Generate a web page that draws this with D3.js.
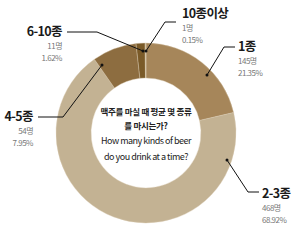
<!DOCTYPE html>
<html><head><meta charset="utf-8">
<script src="https://cdn.jsdelivr.net/npm/d3@7"></script>
<style>
body{margin:0;background:#fff;}
svg{display:block;}
text{font-family:"Noto Sans CJK KR","Noto Sans",sans-serif;}
</style></head>
<body><svg id="c" width="299" height="246"></svg>
<script>
const categories = ["1종", "2-3종", "4-5종", "6-10종", "10종이상"];
const counts = [145, 468, 54, 11, 1];
const percents = ["21.35%", "68.92%", "7.95%", "1.62%", "0.15%"];
const countUnit = "명";
const centerLines = ["맥주를 마실 때 평균 몇 종류", "를 마시는가?", "How many kinds of beer", "do you drink at a time?"];

const colors = ["#a6865a", "#c3b293", "#8d6d40", "#7a5a28", "#cbb994"];
// label layout: text anchor x, title baseline y, anchor, leader elbow/end points
const layout = [
  {x:238, y:51, anchor:"start", line:[[235,47],[224,47],[207,75]]},
  {x:262, y:198, anchor:"start", line:[[259,192],[248,192],[227,160]]},
  {x:33, y:121, anchor:"end", line:[[38,117],[63,117],[102,65]]},
  {x:62, y:36, anchor:"end", line:[[67,32],[97,32],[143,51]]},
  {x:182, y:18, anchor:"start", line:[[176,22],[165,22],[146,51]]}
];

const svg = d3.select("#c");
const cx = 146, cy = 133, R = 90, r = 55;
const g = svg.append("g").attr("transform", `translate(${cx},${cy})`);
const pie = d3.pie().sort(null).value(d => d)(counts);
const arc = d3.arc().innerRadius(r).outerRadius(R);
g.selectAll("path").data(pie).join("path")
  .attr("d", arc).attr("fill", (d,i) => colors[i])
  .attr("stroke", "#d8cbb0").attr("stroke-width", 0.4);

// leaders
layout.forEach((L, i) => {
  svg.append("path").attr("d", d3.line()(L.line))
    .attr("fill", "none").attr("stroke", "#111").attr("stroke-width", 1);
  const e = L.line[L.line.length-1];
  svg.append("circle").attr("cx", e[0]).attr("cy", e[1]).attr("r", 1.5).attr("fill", "#111");
  const t = svg.append("g");
  t.append("text").attr("x", L.x).attr("y", L.y).attr("text-anchor", L.anchor)
    .attr("font-size", 12.5).attr("font-weight", 700).attr("fill", "#1a1a1a")
    .attr("letter-spacing", -0.6).text(categories[i]);
  t.append("text").attr("x", L.x).attr("y", L.y + 12.5).attr("text-anchor", L.anchor)
    .attr("font-size", 8).attr("fill", "#777").attr("letter-spacing", -0.5).text(counts[i] + countUnit);
  t.append("text").attr("x", L.x).attr("y", L.y + 25).attr("text-anchor", L.anchor)
    .attr("font-size", 8).attr("fill", "#777").attr("letter-spacing", -0.5).text(percents[i]);
});

// center text
const ys = [115, 129, 144, 160];
centerLines.forEach((s, i) => {
  svg.append("text").attr("x", cx).attr("y", ys[i]).attr("text-anchor", "middle")
    .attr("font-size", i < 2 ? 8.5 : 9).attr("font-weight", i < 2 ? 700 : 400)
    .attr("fill", "#222").attr("letter-spacing", i < 2 ? -0.3 : -0.5).text(s);
});
</script></body></html>
